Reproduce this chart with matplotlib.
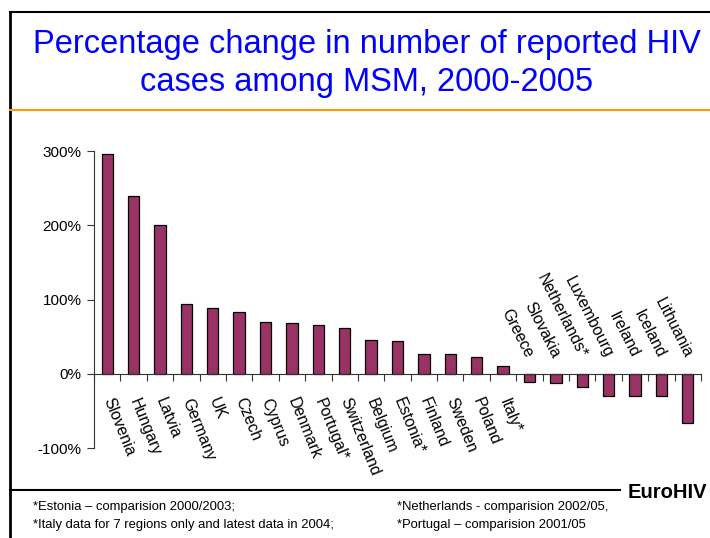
import matplotlib.pyplot as plt
from matplotlib.lines import Line2D

plt.rcParams['font.family'] = ['Liberation Sans', 'DejaVu Sans']

# Dados
countries = ['Slovenia', 'Hungary', 'Latvia', 'Germany', 'UK', 'Czech', 'Cyprus',
             'Denmark', 'Portugal*', 'Switzerland', 'Belgium', 'Estonia*', 'Finland',
             'Sweden', 'Poland', 'Italy*', 'Greece', 'Slovakia', 'Netherlands*',
             'Luxembourg', 'Ireland', 'Iceland', 'Lithuania']
pct_change = [296, 240, 200, 94, 88, 83, 70, 68, 65, 62, 46, 44, 27,
              27, 22, 11, -11, -13, -18, -30, -30, -30, -67]
y_ticks = [-100, 0, 100, 200, 300]
y_labels = ['-100%', '0%', '100%', '200%', '300%']

fig = plt.figure(figsize=(7.1, 5.38), dpi=100)
fig.patch.set_facecolor('white')

# Moldura do slide
fig.add_artist(Line2D([10/710, 1.0], [1 - 12/538, 1 - 12/538], color='black', lw=1.5))
fig.add_artist(Line2D([10/710, 10/710], [0, 1 - 12/538], color='black', lw=2))
fig.add_artist(Line2D([10/710, 1.0], [1 - 110/538, 1 - 110/538], color='#FF9900', lw=1.5))
fig.add_artist(Line2D([10/710, 620/710], [1 - 490/538, 1 - 490/538], color='black', lw=1.5))

# Título
fig.text(367/710, 1 - 45/538, 'Percentage change in number of reported HIV',
         color='#0000FF', fontsize=23.5, ha='center', va='center')
fig.text(367/710, 1 - 83/538, 'cases among MSM, 2000-2005',
         color='#0000FF', fontsize=23.5, ha='center', va='center')

# Rodapé
fig.text(667/710, 1 - 492/538, 'EuroHIV', fontsize=14.5, fontweight='bold',
         ha='center', va='center')
fig.text(33/710, 1 - 507/538, '*Estonia \u2013 comparision 2000/2003;', fontsize=9.4, va='center')
fig.text(33/710, 1 - 525/538, '*Italy data for 7 regions only and latest data in 2004;',
         fontsize=9.4, va='center')
fig.text(397/710, 1 - 507/538, '*Netherlands - comparision 2002/05,', fontsize=9.4, va='center')
fig.text(397/710, 1 - 525/538, '*Portugal \u2013 comparision 2001/05', fontsize=9.4, va='center')

ax = fig.add_axes([94/710, 1 - 448/538, (701 - 94)/710, (448 - 151)/538])
x = list(range(len(countries)))
ax.bar(x, pct_change, width=0.43, color='#993366', edgecolor='black', linewidth=0.9)

ax.set_xlim(-0.5, len(countries) - 0.5)
ax.set_ylim(-100, 300)
ax.set_yticks(y_ticks)
ax.set_yticklabels(y_labels, fontsize=11)
ax.set_xticks([i - 0.5 for i in range(len(countries) + 1)])
ax.set_xticklabels([])

ax.spines['top'].set_visible(False)
ax.spines['right'].set_visible(False)
ax.spines['bottom'].set_position(('data', 0))
ax.spines['left'].set_color('#333333')
ax.spines['bottom'].set_color('#333333')
ax.tick_params(axis='x', direction='out', length=5, color='#333333')
ax.tick_params(axis='y', direction='out', length=5, color='#333333', pad=4)

# Rótulos das categorias
for i, (name, v) in enumerate(zip(countries, pct_change)):
    if v >= 0:
        ax.annotate(name, xy=(i, 0), xytext=(0, -18), textcoords='offset points',
                    rotation=-68, rotation_mode='anchor', ha='left', va='center',
                    fontsize=11.5)
    else:
        ax.annotate(name, xy=(i, 0), xytext=(0, 12), textcoords='offset points',
                    rotation=-63, rotation_mode='anchor', ha='right', va='center',
                    fontsize=11.5)

fig.savefig('out.png', dpi=100)
